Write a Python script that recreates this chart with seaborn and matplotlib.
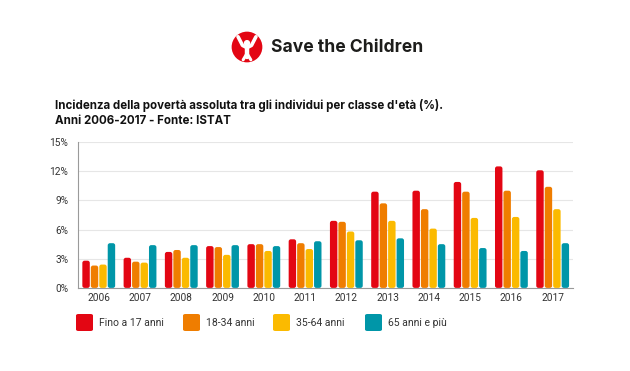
import matplotlib
matplotlib.use("Agg")
import matplotlib.pyplot as plt
from matplotlib.patches import FancyBboxPatch, Circle
import seaborn as sns
import pandas as pd

anni = ["2006", "2007", "2008", "2009", "2010", "2011",
        "2012", "2013", "2014", "2015", "2016", "2017"]
classi = ["Fino a 17 anni", "18-34 anni", "35-64 anni", "65 anni e più"]
fino_17 = [2.8, 3.1, 3.7, 4.3, 4.5, 5.0, 6.9, 9.9, 10.0, 10.9, 12.5, 12.1]
da_18_34 = [2.3, 2.7, 3.9, 4.2, 4.5, 4.6, 6.8, 8.7, 8.1, 9.9, 10.0, 10.4]
da_35_64 = [2.4, 2.6, 3.1, 3.4, 3.8, 4.0, 5.8, 6.9, 6.1, 7.2, 7.3, 8.1]
over_65 = [4.6, 4.4, 4.4, 4.4, 4.3, 4.8, 4.9, 5.1, 4.5, 4.1, 3.8, 4.6]
colori = ["#E30613", "#EF7D00", "#FBBA00", "#0096A8"]

df = pd.DataFrame({"anno": anni * 4,
                   "classe": sum([[c] * len(anni) for c in classi], []),
                   "valore": fino_17 + da_18_34 + da_35_64 + over_65})

sns.set_style("white")
plt.rcParams["font.family"] = ["Roboto", "DejaVu Sans"]

fig = plt.figure(figsize=(6.3, 3.71), dpi=100)
ax = fig.add_axes([0.124, 0.224, 0.786, 0.393])
sns.barplot(data=df, x="anno", y="valore", hue="classe", palette=colori,
            width=0.82, gap=0.12, ax=ax, legend=False, saturation=1)

ax.set_ylim(0, 15)
ax.set_xlim(-0.5, len(anni) - 0.5)
ax.set_yticks([0, 3, 6, 9, 12, 15])
ax.set_yticklabels([f"{v}%" for v in [0, 3, 6, 9, 12, 15]])
ax.set_xlabel("")
ax.set_ylabel("")
ax.yaxis.grid(True, color="#e6e6e6", lw=0.8)
ax.set_axisbelow(True)
for s in ["top", "right"]:
    ax.spines[s].set_visible(False)
for s in ["left", "bottom"]:
    ax.spines[s].set_color("#9a9a9a")
    ax.spines[s].set_linewidth(0.8)
ax.tick_params(axis="both", labelsize=7.3, colors="#333333", length=0, pad=4)
ax.tick_params(axis="y", length=3, color="#9a9a9a", width=0.8)
# tacche tra gli anni
ax.set_xticks([i + 0.5 for i in range(len(anni) - 1)], minor=True)
ax.tick_params(axis="x", which="minor", length=3, color="#9a9a9a", width=0.8)

# barre arrotondate
fig.canvas.draw()
bbox = ax.get_window_extent()
aspect = (bbox.width / len(anni)) / (bbox.height / 15)
for p in list(ax.patches):
    x, w, h = p.get_x(), p.get_width(), p.get_height()
    fb = FancyBboxPatch((x, 0), w, h,
                        boxstyle=f"round,pad=0,rounding_size={w * 0.3}",
                        mutation_aspect=aspect, facecolor=p.get_facecolor(),
                        edgecolor="none", zorder=3)
    p.remove()
    ax.add_patch(fb)

# logo
lg = fig.add_axes([231 / 630, 1 - 63 / 371, 32 / 630, 32 / 371])
lg.set_xlim(0, 1)
lg.set_ylim(0, 1)
lg.set_aspect("equal")
lg.axis("off")
lg.add_patch(Circle((0.5, 0.5), 0.48, facecolor="#E30613", edgecolor="none"))
lg.add_patch(Circle((0.5, 0.62), 0.1, facecolor="white", edgecolor="none"))
lg.plot([0.22, 0.36, 0.5, 0.64, 0.78], [0.82, 0.55, 0.48, 0.55, 0.82],
        color="white", lw=2.6, solid_capstyle="round", solid_joinstyle="round")
lg.plot([0.5, 0.5], [0.5, 0.18], color="white", lw=3.2, solid_capstyle="round")
lg.plot([0.5, 0.38], [0.3, 0.1], color="white", lw=2.2, solid_capstyle="round")
lg.plot([0.5, 0.62], [0.3, 0.1], color="white", lw=2.2, solid_capstyle="round")

fig.text(271 / 630, 1 - 48 / 371, "Save the Children", fontsize=12.6,
         fontweight="bold", color="#1d1d1b", va="center", family=["Inter", "DejaVu Sans"])

fig.text(55 / 630, 1 - 105 / 371,
         "Incidenza della povertà assoluta tra gli individui per classe d'età (%).",
         fontsize=8.3, fontweight="bold", color="#111111", va="center",
         family=["Inter", "DejaVu Sans"])
fig.text(55 / 630, 1 - 121 / 371, "Anni 2006-2017 - Fonte: ISTAT",
         fontsize=8.3, fontweight="bold", color="#111111", va="center",
         family=["Inter", "DejaVu Sans"])

# legenda
leg_x = [76, 183, 273, 365]
for xq, c, lab in zip(leg_x, colori, classi):
    fig.patches.append(FancyBboxPatch((xq / 630, 1 - 331 / 371), 17 / 630, 17 / 371,
                                      boxstyle="round,pad=0,rounding_size=0.004",
                                      transform=fig.transFigure, facecolor=c,
                                      edgecolor="none"))
    fig.text((xq + 23) / 630, 1 - 323 / 371, lab, fontsize=7.5, color="#333333",
             va="center")

fig.savefig("out.png", dpi=100, facecolor="white")
